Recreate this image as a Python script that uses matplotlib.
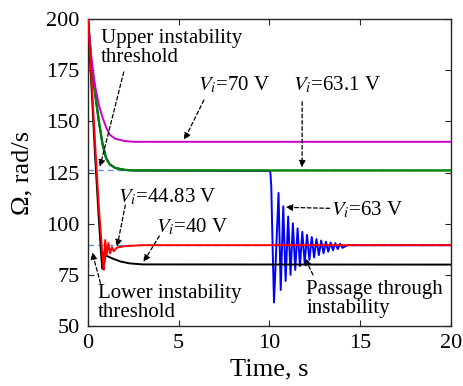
import matplotlib
matplotlib.use("Agg")
import matplotlib.pyplot as plt

# ---------------- data ----------------
t_70 = [0, 0.2, 0.4, 0.6, 0.8, 1.0, 1.2, 1.5, 2.0, 2.5, 20]
w_70 = [200, 180, 167, 158, 152, 147, 143.5, 141.5, 140.4, 140, 140]

t_631 = [0, 0.2, 0.4, 0.6, 0.8, 1.0, 1.2, 1.5, 2.0, 2.5, 20]
w_631 = [200, 177, 163, 150, 139, 132, 129, 127.2, 126.3, 126, 126]

t_63 = [0, 0.2, 0.4, 0.6, 0.8, 1.0, 1.2, 1.5, 2.0, 2.5, 10.0, 10.05, 10.1, 10.17,
        10.25, 10.50, 10.62, 10.76, 10.89, 11.03, 11.16, 11.29, 11.42, 11.55, 11.68, 11.81,
        11.94, 12.07, 12.20, 12.33, 12.46, 12.59, 12.72, 12.85, 12.98, 13.11, 13.24, 13.37,
        13.50, 13.63, 13.76, 13.89, 14.02, 14.3, 20]
w_63 = [200, 177, 163, 150, 139, 132, 129, 127.2, 126.3, 126, 125.8, 125, 118, 90,
        61.5, 115, 67.6, 108.5, 72, 103.5, 75, 100.2, 77.4, 97.7, 79.3, 96, 80.7, 94.5,
        82.3, 93.5, 83.5, 92.5, 84.6, 91.8, 85.5, 91.2, 86.3, 90.8, 87, 90.5, 87.6, 90.2,
        88.2, 89.5, 89.5]

t_4483 = [0, 0.2, 0.4, 0.6, 0.8, 0.87, 0.95, 1.03, 1.12, 1.22, 1.32, 1.42, 1.6, 2.0, 3.0, 20]
w_4483 = [200, 170, 138, 108, 84, 77.5, 92, 84.5, 90.5, 85.5, 88.5, 86.5, 88.3, 89, 89.5, 89.5]

t_40 = [0, 0.2, 0.4, 0.6, 0.75, 0.8, 0.85, 0.9, 0.95, 1.1, 1.4, 1.8, 2.3, 3.0, 20]
w_40 = [200, 166, 132, 102, 82, 78, 86, 81, 84.5, 84, 82.8, 81.5, 80.6, 80.1, 80]

upper_threshold = 126
lower_threshold = 89.5

x_ticks = [0, 5, 10, 15, 20]
y_ticks = [50, 75, 100, 125, 150, 175, 200]

# ---------------- style ----------------
plt.rcParams["font.family"] = ["Liberation Serif", "DejaVu Serif"]
plt.rcParams["mathtext.fontset"] = "stix"

fig = plt.figure(figsize=(4.63, 3.86), dpi=100)
ax = fig.add_axes([0.190, 0.1554, 0.784, 0.7954])

lw = 1.4
ax.axhline(upper_threshold, color="#5b8fd6", ls=(0, (4, 3)), lw=1.0, zorder=1)
ax.axhline(lower_threshold, color="#5b8fd6", ls=(0, (4, 3)), lw=1.0, zorder=1)
ax.plot(t_63, w_63, color="#0000ff", lw=lw, zorder=2)
ax.plot(t_631, w_631, color="#008000", lw=lw + 0.3, zorder=3)
ax.plot(t_70, w_70, color="#cc00cc", lw=lw, zorder=3)
ax.plot(t_40, w_40, color="black", lw=lw, zorder=4)
ax.plot(t_4483, w_4483, color="#ff0000", lw=lw, zorder=5)

ax.set_xlim(0, 20)
ax.set_ylim(50, 200)
ax.set_xticks(x_ticks)
ax.set_yticks(y_ticks)
ax.tick_params(direction="in", top=True, right=True, length=4, width=0.8,
               labelsize=16, colors="#262626", labelcolor="black", pad=6)
for s in ax.spines.values():
    s.set_color("#262626")
    s.set_linewidth(1.0)
ax.set_xlabel("Time, s", fontsize=19, labelpad=4)
ax.set_ylabel("Ω, rad/s", fontsize=19, labelpad=9)

fs = 15
ax.text(0.71, 185.6, "Upper instability\nthreshold", fontsize=fs, va="center", ha="left",
        linespacing=1.0)
ax.text(0.55, 61.3, "Lower instability\nthreshold", fontsize=fs, va="center", ha="left",
        linespacing=1.0)
ax.text(12.02, 63.0, "Passage through\ninstability", fontsize=fs, va="center", ha="left",
        linespacing=1.0)
ax.text(6.07, 167.8, "$V_i$=70 V", fontsize=fs, va="center", ha="left")
ax.text(11.31, 167.8, "$V_i$=63.1 V", fontsize=fs, va="center", ha="left")
ax.text(1.64, 113.0, "$V_i$=44.83 V", fontsize=fs, va="center", ha="left")
ax.text(3.77, 98.4, "$V_i$=40 V", fontsize=fs, va="center", ha="left")
ax.text(13.39, 106.7, "$V_i$=63 V", fontsize=fs, va="center", ha="left")

arrows = [
    ((1.97, 174.1), (0.66, 127.8)),
    ((6.39, 160.4), (5.30, 140.9)),
    ((11.8, 159.6), (11.8, 127.5)),
    ((2.06, 109.1), (1.60, 88.8)),
    ((3.93, 94.0), (3.06, 81.3)),
    ((13.32, 107.5), (10.89, 108.0)),
    ((12.4, 75.0), (11.95, 83.1)),
    ((0.69, 70.9), (0.23, 86.0)),
]
for tail, head in arrows:
    ax.annotate("", xy=head, xytext=tail,
                arrowprops=dict(arrowstyle="-|>", ls=(0, (3, 2)), lw=0.9, color="black",
                                mutation_scale=10, shrinkA=0, shrinkB=0),
                zorder=6)

fig.savefig("out.png", dpi=100)
